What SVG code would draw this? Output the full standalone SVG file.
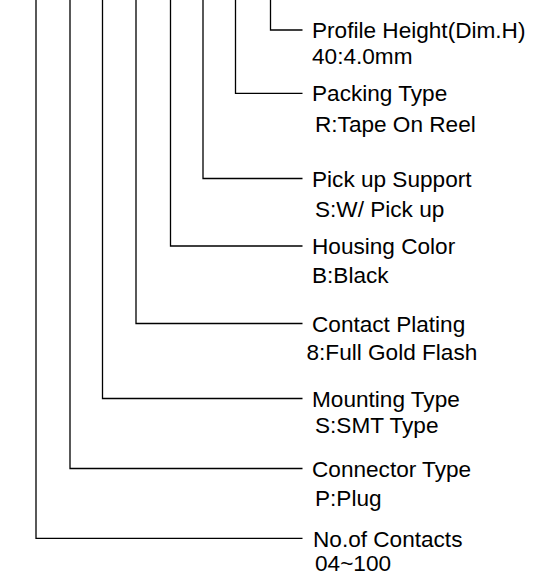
<svg xmlns="http://www.w3.org/2000/svg" width="540" height="588" viewBox="0 0 540 588">
<style>
.c{fill:none;stroke:#000;stroke-width:1.3}
.t{font-family:"Liberation Sans",Arial,sans-serif;font-size:22.6px;fill:#000}
</style>
<rect width="540" height="588" fill="#fff"/>
<g id="connectors">
<path class="c" d="M270.5,0V30H302.5"/>
<path class="c" d="M235.5,0V93.3H302.5"/>
<path class="c" d="M203,0V178.5H302.5"/>
<path class="c" d="M170.5,0V246H302.5"/>
<path class="c" d="M136,0V323.5H302.5"/>
<path class="c" d="M102.5,0V398.5H302.5"/>
<path class="c" d="M70,0V468.5H302.5"/>
<path class="c" d="M36,0V538.3H302.5"/>
</g>
<g id="profile-height"><text class="t" x="312" y="38">Profile Height(Dim.H)</text><text class="t" x="312" y="64">40:4.0mm</text></g>
<g id="packing-type"><text class="t" x="312" y="101">Packing Type</text><text class="t" x="315" y="131.5">R:Tape On Reel</text></g>
<g id="pickup-support"><text class="t" x="312" y="186.5">Pick up Support</text><text class="t" x="315" y="217">S:W/ Pick up</text></g>
<g id="housing-color"><text class="t" x="312" y="254">Housing Color</text><text class="t" x="312" y="282.5">B:Black</text></g>
<g id="contact-plating"><text class="t" x="312" y="331.5">Contact Plating</text><text class="t" x="306.5" y="360">8:Full Gold Flash</text></g>
<g id="mounting-type"><text class="t" x="312" y="406.5">Mounting Type</text><text class="t" x="315" y="432.5">S:SMT Type</text></g>
<g id="connector-type"><text class="t" x="312" y="477">Connector Type</text><text class="t" x="315" y="505.5">P:Plug</text></g>
<g id="contacts"><text class="t" x="313" y="547">No.of Contacts</text><text class="t" x="315" y="570.5">04~100</text></g>
</svg>
